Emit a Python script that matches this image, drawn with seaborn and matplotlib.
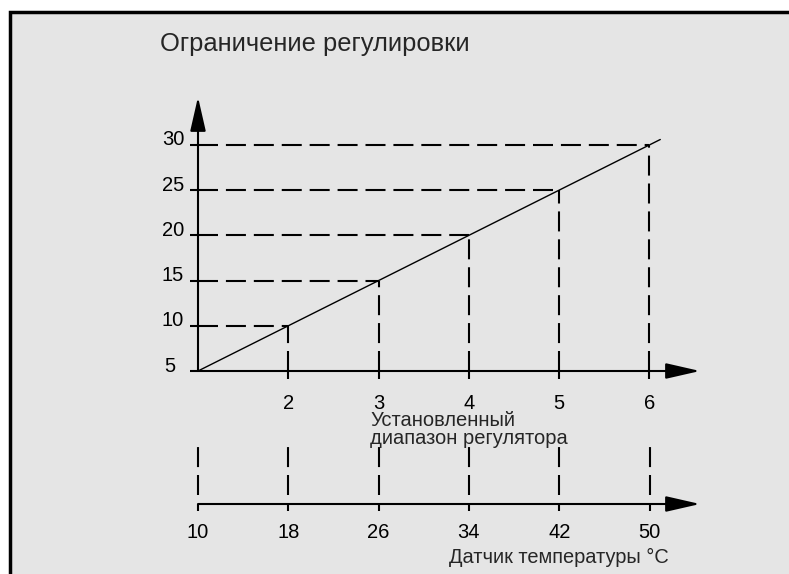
import numpy as np
import matplotlib
matplotlib.use('Agg')
import matplotlib.pyplot as plt
from matplotlib.patches import Rectangle, FancyArrowPatch
import matplotlib.transforms as mtransforms
import pandas as pd
import seaborn as sns

### Data
ctrl_range = [1, 2, 3, 4, 5, 6]              # set controller range
limit_vals = [5, 10, 15, 20, 25, 30]         # adjustment limit
sensor_temp = [10, 18, 26, 34, 42, 50]       # temperature sensor, °C
line_x = [1, 6.12]                           # diagonal runs slightly past 6
line_y = [5, 30.6]

title = 'Ограничение регулировки'
range_label = ['Установленный', 'диапазон регулятора']
sensor_label = 'Датчик температуры °C'

sns.set_theme(style='white')
plt.rcParams['font.family'] = ['Liberation Sans', 'DejaVu Sans']

W, H = 789, 574
fig = plt.figure(figsize=(W / 100, H / 100), dpi=100, facecolor='white')

### grey panel with black frame (open at right/bottom)
fig.add_artist(Rectangle((10 / W, -0.2), 1.2, 1.2 - 12 / H,
                         transform=fig.transFigure, facecolor='#e5e5e5',
                         edgecolor='black', lw=2.5, zorder=0))

def px(x0, y0, x1, y1):
    return [x0 / W, 1 - y1 / H, (x1 - x0) / W, (y1 - y0) / H]

dash = (0, (9.6, 3.8))

### upper chart
ax = fig.add_axes(px(198, 97, 700, 371))
ax.set_facecolor('none')
df = pd.DataFrame({'x': line_x, 'y': line_y})
sns.lineplot(data=df, x='x', y='y', ax=ax, color='black', lw=1.0)
ax.hlines(limit_vals[1:], ctrl_range[0], ctrl_range[1:], colors='black',
          linestyles=[dash], lw=1.5, clip_on=False)
ax.vlines(ctrl_range[1:], limit_vals[0], limit_vals[1:], colors='black',
          linestyles=[dash], lw=1.5, clip_on=False)
ax.set_xlim(1, 6.56)
ax.set_ylim(5, 35.3)
for s in ax.spines.values():
    s.set_visible(False)
ax.set_xticks(ctrl_range[1:])
ax.set_yticks(limit_vals)
ax.set_xlabel('')
ax.set_ylabel('')
ax.tick_params(axis='x', direction='out', length=6, width=1.5, pad=10.5,
               labelsize=14.5, colors='black', bottom=True)
ax.tick_params(axis='y', direction='out', length=6, width=1.5, pad=4,
               labelsize=14.5, colors='black', left=True)
up = mtransforms.ScaledTranslation(0, 5 / 72, fig.dpi_scale_trans)
ylabs = ax.get_yticklabels()
for lab in ylabs:
    lab.set_transform(lab.get_transform() + up)
# the "5" sits a bit further left in the original
ylabs[0].set_transform(ylabs[0].get_transform() +
                       mtransforms.ScaledTranslation(-9 / 100, 0, fig.dpi_scale_trans))
for lab in ax.get_xticklabels():
    lab.set_zorder(5)

arrow_kw = dict(arrowstyle='-|>,head_length=21,head_width=4.8',
                mutation_scale=1, color='black', lw=1.5,
                shrinkA=0, shrinkB=0, clip_on=False)
ax.add_patch(FancyArrowPatch((0, 0), (1, 0), transform=ax.transAxes, **arrow_kw))
ax.add_patch(FancyArrowPatch((0, 0), (0, 1), transform=ax.transAxes, **arrow_kw))

### lower sensor scale
ax2 = fig.add_axes(px(198, 447, 700, 504))
ax2.set_facecolor('none')
ax2.set_xlim(10, 54.47)
ax2.set_ylim(0, 1)
ax2.vlines(sensor_temp, 0.16, 1, colors='black', linestyles=[dash], lw=1.5,
           clip_on=False)
for s in ax2.spines.values():
    s.set_visible(False)
ax2.set_xticks(sensor_temp)
ax2.set_yticks([])
ax2.tick_params(axis='x', direction='out', length=5, width=1.5, pad=9,
                labelsize=14.5, colors='black', bottom=True)
ax2.add_patch(FancyArrowPatch((0, 0), (1, 0), transform=ax2.transAxes, **arrow_kw))

### texts
fig.text(160 / W, 1 - 44 / H, title, fontsize=18.4, va='center', ha='left')
fig.text(370 / W, 1 - 420 / H, range_label[0], fontsize=14.5, va='center', ha='left')
fig.text(370 / W, 1 - 438 / H, range_label[1], fontsize=14.5, va='center', ha='left')
fig.text(559 / W, 1 - 557 / H, sensor_label, fontsize=14.4, va='center',
         ha='center')

fig.savefig('out.png', dpi=100, facecolor='white')
